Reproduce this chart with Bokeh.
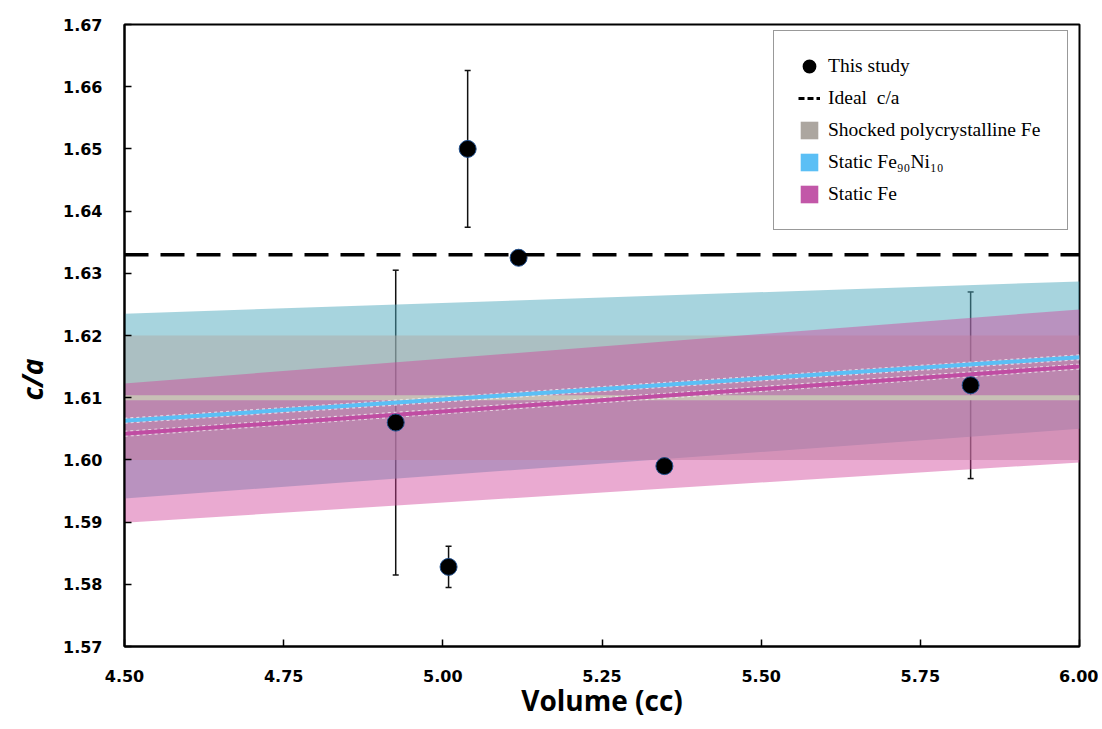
from bokeh.plotting import figure
from bokeh.models import (ColumnDataSource, Whisker, TeeHead, Span, Legend, LegendItem,
                          FixedTicker, NumeralTickFormatter, Title)
from bokeh.embed import file_html
from bokeh.resources import INLINE

# ---- data ----
volume = [4.926, 5.009, 5.039, 5.119, 5.348, 5.829]
ca = [1.6060, 1.5828, 1.6500, 1.6325, 1.5990, 1.6120]
ca_err = [0.0245, 0.0033, 0.0126, 0.0, 0.0, 0.0150]

ideal_ca = 1.633

band_v = [4.50, 6.00]
shock_center = [1.610, 1.610]
shock_upper = [1.620, 1.620]
shock_lower = [1.600, 1.600]
feni_center = [1.6063, 1.6165]
feni_upper = [1.6235, 1.6287]
feni_lower = [1.5938, 1.6050]
fe_center = [1.6042, 1.6150]
fe_upper = [1.6123, 1.6242]
fe_lower = [1.5899, 1.5996]

x_ticks = [4.50, 4.75, 5.00, 5.25, 5.50, 5.75, 6.00]
y_ticks = [1.57, 1.58, 1.59, 1.60, 1.61, 1.62, 1.63, 1.64, 1.65, 1.66, 1.67]

NAN = float("nan")

# ---- figure ----
p = figure(frame_width=955, frame_height=622, x_range=(4.5, 6.0), y_range=(1.57, 1.67),
           output_backend="svg", toolbar_location=None,
           min_border_left=124, min_border_top=24, min_border_right=19, min_border_bottom=70)
p.xgrid.visible = False
p.ygrid.visible = False
p.outline_line_color = "black"
p.outline_line_width = 2
p.background_fill_color = "white"
p.border_fill_color = "white"

# bands
p.varea(x=band_v, y1=feni_lower, y2=feni_upper, fill_color="#50aabe", fill_alpha=0.5)
p.varea(x=band_v, y1=shock_lower, y2=shock_upper, fill_color="#b0aaa5", fill_alpha=0.5)
p.varea(x=band_v, y1=fe_lower, y2=fe_upper, fill_color="#d0429a", fill_alpha=0.45)

# center lines
p.line(band_v, shock_center, line_color="#c8c0b6", line_width=5)
p.line(band_v, feni_center, line_color="white", line_alpha=0.7, line_width=6, line_dash="3 3")
p.line(band_v, feni_center, line_color="#5bbff5", line_width=4)
p.line(band_v, fe_center, line_color="white", line_alpha=0.7, line_width=6, line_dash="3 3")
p.line(band_v, fe_center, line_color="#c04da3", line_width=4)

# ideal c/a
p.add_layout(Span(location=ideal_ca, dimension="width", line_color="black",
                  line_width=3.5, line_dash="24 12"))

# error bars
ev = [v for v, e in zip(volume, ca_err) if e > 0]
eu = [c + e for c, e in zip(ca, ca_err) if e > 0]
el = [c - e for c, e in zip(ca, ca_err) if e > 0]
esrc = ColumnDataSource(dict(x=ev, upper=eu, lower=el))
p.add_layout(Whisker(base="x", upper="upper", lower="lower", source=esrc,
                     line_color="#111111", line_width=1.5,
                     upper_head=TeeHead(size=6, line_width=1.5, line_color="#111111"),
                     lower_head=TeeHead(size=6, line_width=1.5, line_color="#111111")))

# points
p.scatter(volume, ca, size=17, fill_color="black", line_color="#1f4e8c", line_width=1)

# legend proxies (NaN data: not drawn in the plot, only in the legend)
r_pt = p.scatter([NAN], [NAN], marker="circle", size=9, fill_color="black",
                 line_color="black", line_width=5)
r_ideal = p.line([NAN, NAN], [NAN, NAN], line_color="black", line_width=3, line_dash="6 3")
r_shock = p.quad(left=[NAN], right=[NAN], top=[NAN], bottom=[NAN], fill_color="#aca6a0", line_color=None)
r_feni = p.quad(left=[NAN], right=[NAN], top=[NAN], bottom=[NAN], fill_color="#5bbff5", line_color=None)
r_fe = p.quad(left=[NAN], right=[NAN], top=[NAN], bottom=[NAN], fill_color="#c257a8", line_color=None)

legend = Legend(items=[
    LegendItem(label="This study", renderers=[r_pt]),
    LegendItem(label="Ideal  c/a", renderers=[r_ideal]),
    LegendItem(label="Shocked polycrystalline Fe", renderers=[r_shock]),
    LegendItem(label="Static Fe\u2089\u2080Ni\u2081\u2080", renderers=[r_feni]),
    LegendItem(label="Static Fe", renderers=[r_fe]),
], location=(649, 416), glyph_width=22, glyph_height=22, spacing=10, padding=24,
   label_standoff=8, label_width=215,
   label_text_font="Liberation Serif", label_text_font_size="19.5px", label_text_color="black",
   border_line_color="#333333", border_line_width=1, background_fill_alpha=1.0,
   margin=0)
p.add_layout(legend, "center")

# axes
for ax in (p.xaxis[0], p.yaxis[0]):
    ax.axis_line_width = 2
    ax.axis_line_color = "black"
    ax.major_tick_in = 7
    ax.major_tick_out = 0
    ax.major_tick_line_width = 1.5
    ax.minor_tick_line_color = None
    ax.major_label_text_font = "DejaVu Sans"
    ax.major_label_text_font_style = "bold"
    ax.major_label_text_font_size = "16px"
    ax.major_label_text_color = "black"
    ax.formatter = NumeralTickFormatter(format="0.00")

p.xaxis[0].ticker = FixedTicker(ticks=x_ticks)
p.yaxis[0].ticker = FixedTicker(ticks=y_ticks)
p.xaxis[0].major_label_standoff = 23
p.yaxis[0].major_label_standoff = 22

p.xaxis[0].axis_label = "Volume (cc)"
p.xaxis[0].axis_label_text_font = "Open Sans"
p.xaxis[0].axis_label_text_font_style = "bold"
p.xaxis[0].axis_label_text_font_size = "28px"
p.xaxis[0].axis_label_standoff = -4
p.xaxis[0].axis_label_text_color = "black"

# y title, placed beside the 1.61-1.62 ticks as in the original
p.add_layout(Title(text="c/a", align="left", offset=246, standoff=20,
                   text_font="Open Sans", text_font_style="bold italic",
                   text_font_size="28px", text_color="black"), "left")

open("out.html", "w").write(file_html(p, INLINE))
